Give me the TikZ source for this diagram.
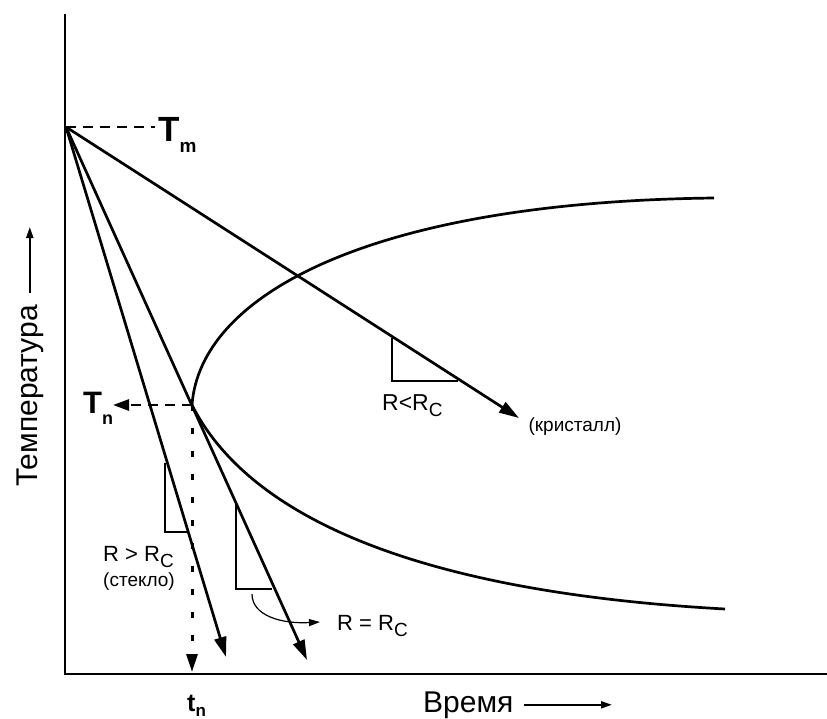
\documentclass[tikz,border=0pt]{standalone}
\usepackage{fontspec}
\setmainfont{Liberation Sans}
\usetikzlibrary{arrows.meta}
\newcommand{\fs}[1]{\fontsize{#1}{#1}\selectfont}
\newcommand{\Rsub}{R\raisebox{-6pt}{\fs{19}C}}

\begin{document}
\begin{tikzpicture}[x=1pt, y=-1pt, inner sep=0pt,
  ln/.style={line width=2.7pt},
  arr/.style={ln, -{Triangle[length=20pt,width=12pt]}},
  dsh/.style={line width=2.7pt, dash pattern=on 10pt off 7pt},
  dts/.style={line width=3pt, dash pattern=on 6pt off 17pt},
  lblarr/.style={line width=2pt, -{Triangle[length=11pt,width=7pt]}},
  thinarr/.style={line width=1.2pt, -{Triangle[length=11pt,width=7pt]}},
  lbl/.style={font=\fs{22}}, phase/.style={font=\fs{19}}]
\path[fill=white, use as bounding box] (0,0) rectangle (827,718);
\coordinate (ytop) at (65,14); \coordinate (o) at (65,674); \coordinate (xend) at (827,674);
\coordinate (tm) at (66,127); \coordinate (tmend) at (155,127);
\coordinate (nose) at (192,405); \coordinate (tnend) at (113,405); \coordinate (tbot) at (192,672);
\coordinate (kend) at (519,418); \coordinate (cend) at (307,660); \coordinate (gend) at (226,657);
\coordinate (cstart) at (252,594); \coordinate (cpoint) at (320,622);
\coordinate (tright) at (612,0); \coordinate (tup) at (0,227);
\node[anchor=base west, font=\fs{35}\bfseries] (tmlbl) at (158,141) {T\raisebox{-11pt}{\fs{19}m}};
\node[anchor=base west, font=\fs{31}\bfseries] (tnlbl) at (83,413) {T\raisebox{-11pt}{\fs{18}n}};
\node[anchor=base west, font=\fs{25}\bfseries] (tnt) at (187,711) {t\raisebox{-5pt}{\fs{17}n}};
\node[anchor=base west, font=\fs{23}] (klbl) at (382,410) {R<\Rsub};
\node[phase] (kname) at (575,427) {(кристалл)};
\node[anchor=base west, lbl] (glbl) at (103,561) {R > \Rsub};
\node[phase] (gname) at (139,582) {(стекло)};
\node[anchor=base west, lbl] (clbl) at (337,630) {R = \Rsub};
\node[anchor=base west, font=\fs{30}] (time) at (423,712) {Время};
\node[anchor=base west, rotate=90, font=\fs{30}] (temp) at (37,487) {Температура};
\draw[ln] (ytop) -- (o) -- (xend);
\draw[dsh] (tm) -- (tmend);
\draw[arr] (tm) -- (kend); \draw[arr] (tm) -- (cend); \draw[arr] (tm) -- (gend);
\draw[ln] (nose) .. controls (200,295) and (370,202) .. (714,198);
\draw[ln] (nose) .. controls (240,500) and (380,590) .. (725,609);
\draw[dsh, -{Triangle[length=16pt,width=11pt]}] (nose) -- (tnend);
\draw[dts, -{Triangle[length=18pt,width=11pt]}] (nose) -- (tbot);
\draw[ln] (392,338) -- (392,381) -- (458,381);
\draw[ln] (165,463) -- (165,532) -- (188,532);
\draw[ln] (236,503) -- (236,589) -- (272,589);
\draw[thinarr] (cstart) .. controls (252,616) and (282,624) .. (cpoint);
\draw[lblarr] ([xshift=10pt]time.east) -- (time.east -| tright);
\draw[lblarr] ([yshift=12pt]temp.east) -- (temp.east |- tup);
\end{tikzpicture}
\end{document}
